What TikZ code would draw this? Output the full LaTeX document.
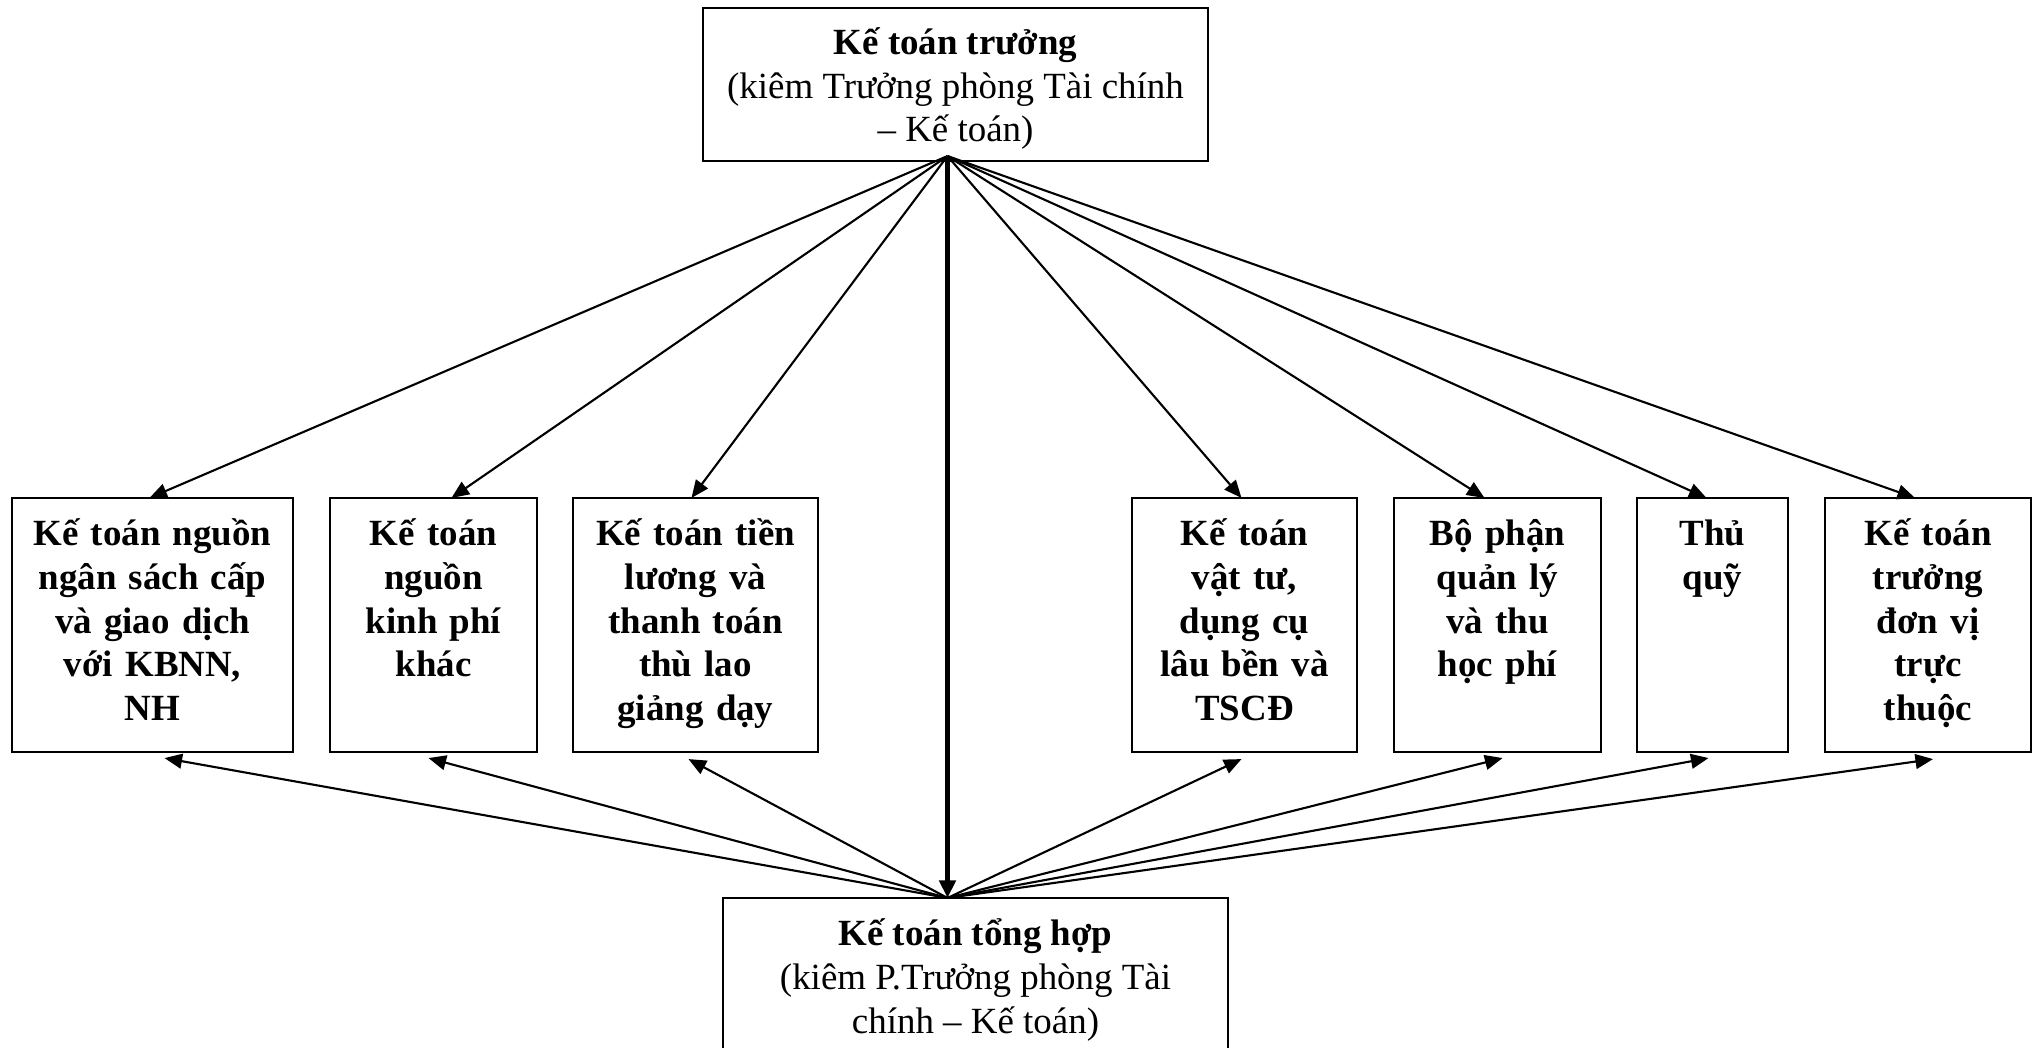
\documentclass[tikz,border=0pt]{standalone}
\usepackage{fontspec}
\setmainfont{Liberation Serif}
\usetikzlibrary{arrows.meta,calc}
\begin{document}
\begin{tikzpicture}[x=0.01cm,y=-0.01cm,
  font=\fontsize{10.5}{12.4}\selectfont,
  frame/.style={draw,line width=0.7pt,inner sep=0pt,outer sep=0pt},
  mbox/.style={frame,minimum height=2.54cm},
  txt/.style={align=center,inner sep=0pt},
  lbl/.style={anchor=base,align=center,inner sep=0pt,font=\fontsize{10.5}{12.4}\selectfont\bfseries},
  arr/.style={line width=0.6pt,-{Triangle[length=5pt,width=4.2pt]}},
  mainarr/.style={line width=1.3pt,-{Triangle[length=5pt,width=4.6pt]}}]
\clip (0,0) rectangle (2038,1048);

% chief accountant
\node[frame,minimum width=5.05cm,minimum height=1.53cm] (top) at (955.5,84.5) {};
\node[txt] (toptext) at ($(top.center)+(0,4)$)
  {\textbf{Kế toán trưởng}\\(kiêm Trưởng phòng Tài chính\\– Kế toán)};

% general accountant (box runs past the lower edge)
\node[frame,minimum width=5.05cm,minimum height=1.58cm] (gen) at (975.5,977) {};
\node[txt] (gentext) at ($(gen.center)+(0,3)$)
  {\textbf{Kế toán tổng hợp}\\(kiêm P.Trưởng phòng Tài\\chính – Kế toán)};

% departments
\node[mbox,minimum width=2.81cm] (b1) at (152.5,625) {};
\node[mbox,minimum width=2.07cm] (b2) at (433.5,625) {};
\node[mbox,minimum width=2.45cm] (b3) at (695.5,625) {};
\node[mbox,minimum width=2.25cm] (b4) at (1244.5,625) {};
\node[mbox,minimum width=2.07cm] (b5) at (1497.5,625) {};
\node[mbox,minimum width=1.51cm] (b6) at (1712.5,625) {};
\node[mbox,minimum width=2.06cm] (b7) at (1928,625) {};

\node[lbl,text width=2.7cm] (t1) at ($(b1.north)+(0,48)$) {Kế toán nguồn\\ngân sách cấp\\và giao dịch\\với KBNN,\\NH};
\node[lbl,text width=2.0cm] (t2) at ($(b2.north)+(0,48)$) {Kế toán\\nguồn\\kinh phí\\khác};
\node[lbl,text width=2.4cm] (t3) at ($(b3.north)+(0,48)$) {Kế toán tiền\\lương và\\thanh toán\\thù lao\\giảng dạy};
\node[lbl,text width=2.2cm] (t4) at ($(b4.north)+(0,48)$) {Kế toán\\vật tư,\\dụng cụ\\lâu bền và\\TSCĐ};
\node[lbl,text width=2.0cm] (t5) at ($(b5.north)+(0,48)$) {Bộ phận\\quản lý\\và thu\\học phí};
\node[lbl,text width=1.45cm] (t6) at ($(b6.north)+(0,48)$) {Thủ\\quỹ};
\node[lbl,text width=2.0cm] (t7) at ($(b7.north)+(0,48)$) {Kế toán\\trưởng\\đơn vị\\trực\\thuộc};

% fan-out points
\coordinate (hub) at ($(top.south)+(-8,-5)$);
\coordinate (base) at (hub |- gen.north);

% chief accountant to each department
\draw[arr] (hub) -- ($(b1.north)+(-3,0)$);
\draw[arr] (hub) -- ($(b2.north)+(18,0)$);
\draw[arr] (hub) -- ($(b3.north)+(-4,0)$);
\draw[arr] (hub) -- ($(b4.north)+(-3,0)$);
\draw[arr] (hub) -- ($(b5.north)+(-13,0)$);
\draw[arr] (hub) -- ($(b6.north)+(-6,0)$);
\draw[arr] (hub) -- ($(b7.north)+(-13,0)$);

% chief accountant to general accountant
\draw[mainarr] (hub) -- (base);

% general accountant to each department
\draw[arr] (base) -- ($(b1.south)+(12,6)$);
\draw[arr] (base) -- ($(b2.south)+(-5,6)$);
\draw[arr] (base) -- ($(b3.south)+(-7,7)$);
\draw[arr] (base) -- ($(b4.south)+(-3,7)$);
\draw[arr] (base) -- ($(b5.south)+(5,6)$);
\draw[arr] (base) -- ($(b6.south)+(-4,6)$);
\draw[arr] (base) -- ($(b7.south)+(5,7)$);
\end{tikzpicture}
\end{document}
